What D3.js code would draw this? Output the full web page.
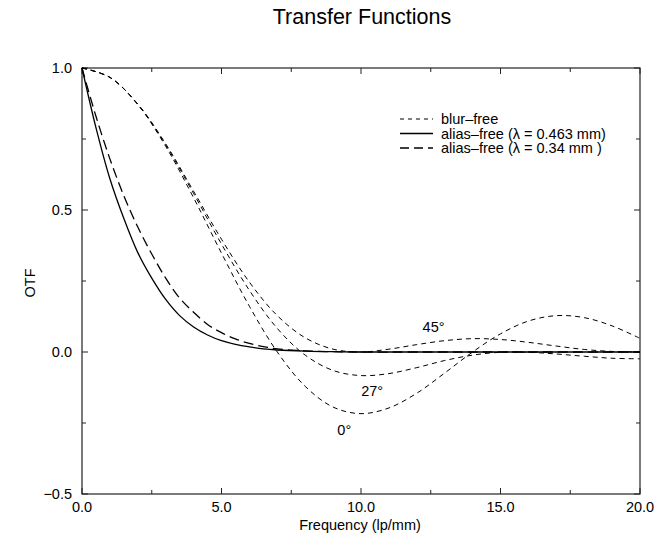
<!DOCTYPE html>
<meta charset="utf-8">
<style>
  body { margin: 0; background: #fff; }
  text { font-family: "Liberation Sans", Arial, sans-serif; fill: #000; }
</style>
<svg width="654" height="538"></svg>
<script src="https://cdn.jsdelivr.net/npm/d3@7"></script>
<script>

// frequencies (lp/mm) where the curves were read
var freq = [0, 1, 2, 3, 4, 5, 6, 7, 8, 9, 10, 11, 12, 13, 14, 15, 16, 17, 18, 19, 20];
var blur0  = [1, 0.967, 0.871, 0.724, 0.543, 0.348, 0.161, 0, -0.121, -0.194, -0.217, -0.197, -0.145, -0.074, 0, 0.064, 0.109, 0.128, 0.121, 0.092, 0.048];
var blur27 = [1, 0.967, 0.872, 0.729, 0.558, 0.380, 0.217, 0.083, -0.011, -0.065, -0.083, -0.076, -0.055, -0.030, -0.011, -0.001, -0.001, -0.007, -0.015, -0.022, -0.024];
var blur45 = [1, 0.967, 0.873, 0.733, 0.566, 0.397, 0.246, 0.128, 0.050, 0.010, 0, 0.010, 0.026, 0.040, 0.047, 0.044, 0.034, 0.021, 0.009, 0.002, 0];

var freqFine = [0, 0.5, 1, 1.5, 2, 2.5, 3, 3.5, 4, 4.5, 5, 5.5, 6, 6.5, 7, 8, 9, 10, 12, 15, 20];
var alias463 = [1, 0.79, 0.61, 0.47, 0.35, 0.26, 0.185, 0.128, 0.088, 0.06, 0.04, 0.027, 0.018, 0.011, 0.007, 0.003, 0.001, 0, 0, 0, 0];
var alias34  = [1, 0.83, 0.68, 0.55, 0.44, 0.345, 0.26, 0.19, 0.14, 0.097, 0.068, 0.046, 0.03, 0.019, 0.011, 0.004, 0.001, 0, 0, 0, 0];

var xTicks = [0, 5, 10, 15, 20];
var yTicks = [-0.5, 0, 0.5, 1];

var svg = d3.select("svg");
var pl = 82, pr = 640, pt = 68, pb = 494;

var x = d3.scaleLinear().domain([0, 20]).range([pl, pr]);
var y = d3.scaleLinear().domain([-0.5, 1]).range([pb, pt]);

// frame
svg.append("rect")
    .attr("x", pl).attr("y", pt)
    .attr("width", pr - pl).attr("height", pb - pt)
    .attr("fill", "none").attr("stroke", "#222").attr("stroke-width", 1.2);

// ticks on all four sides, pointing inward
var xMinor = d3.range(0, 20.01, 2.5);
var yMinor = d3.range(-0.5, 1.01, 0.25);
var tickG = svg.append("g").attr("stroke", "#222").attr("stroke-width", 1);
xMinor.forEach(function(v) {
  var len = v % 5 === 0 ? 6 : 4;
  tickG.append("line").attr("x1", x(v)).attr("x2", x(v)).attr("y1", pb).attr("y2", pb - len);
  tickG.append("line").attr("x1", x(v)).attr("x2", x(v)).attr("y1", pt).attr("y2", pt + len);
});
yMinor.forEach(function(v) {
  var len = Math.abs(v * 2 - Math.round(v * 2)) < 1e-6 ? 6 : 4;
  tickG.append("line").attr("y1", y(v)).attr("y2", y(v)).attr("x1", pl).attr("x2", pl + len);
  tickG.append("line").attr("y1", y(v)).attr("y2", y(v)).attr("x1", pr).attr("x2", pr - len);
});

svg.selectAll(".xt").data(xTicks).enter().append("text")
    .attr("x", function(d) { return x(d); })
    .attr("y", 512)
    .attr("text-anchor", "middle")
    .style("font-size", "14.5px")
    .text(function(d) { return d.toFixed(1); });

svg.selectAll(".yt").data(yTicks).enter().append("text")
    .attr("x", 72)
    .attr("y", function(d) { return y(d) + 5; })
    .attr("text-anchor", "end")
    .style("font-size", "14.5px")
    .text(function(d) { return (d < 0 ? "\u2212" : "") + Math.abs(d).toFixed(1); });

svg.append("text").attr("x", 362).attr("y", 24).attr("text-anchor", "middle")
    .style("font-size", "21.5px").text("Transfer Functions");
svg.append("text").attr("x", 360).attr("y", 530).attr("text-anchor", "middle")
    .style("font-size", "14.5px").text("Frequency (lp/mm)");
svg.append("text").attr("transform", "translate(35,283) rotate(-90)").attr("text-anchor", "middle")
    .style("font-size", "14.5px").text("OTF");

// curves
function line(xs) {
  return d3.line()
      .x(function(d, i) { return x(xs[i]); })
      .y(function(d) { return y(d); })
      .curve(d3.curveCatmullRom);
}

var curves = [
  { xs: freq, ys: blur0, dash: "5,4", width: 1 },
  { xs: freq, ys: blur27, dash: "5,4", width: 1 },
  { xs: freq, ys: blur45, dash: "5,4", width: 1 },
  { xs: freqFine, ys: alias463, dash: null, width: 1.3 },
  { xs: freqFine, ys: alias34, dash: "10,5", width: 1.3 }
];

curves.forEach(function(c) {
  svg.append("path")
      .attr("d", line(c.xs)(c.ys))
      .attr("fill", "none")
      .attr("stroke", "#000")
      .attr("stroke-width", c.width)
      .attr("stroke-dasharray", c.dash);
});

// angle labels
var angleLabels = [
  { t: "45\u00b0", f: 12.6, v: 0.072 },
  { t: "27\u00b0", f: 10.4, v: -0.155 },
  { t: "0\u00b0", f: 9.4, v: -0.292 }
];
svg.selectAll(".ang").data(angleLabels).enter().append("text")
    .attr("x", function(d) { return x(d.f); })
    .attr("y", function(d) { return y(d.v); })
    .attr("text-anchor", "middle")
    .style("font-size", "14.5px")
    .text(function(d) { return d.t; });

// legend
var legend = [
  { t: "blur\u2013free", dash: "4,4", width: 1 },
  { t: "alias\u2013free (\u03bb = 0.463 mm)", dash: null, width: 1.3 },
  { t: "alias\u2013free (\u03bb = 0.34 mm )", dash: "9,5", width: 1.3 }
];
var lg = svg.append("g");
legend.forEach(function(d, i) {
  var ly = 119 + i * 14.5;
  lg.append("line").attr("x1", 400).attr("x2", 433).attr("y1", ly).attr("y2", ly)
      .attr("stroke", "#000").attr("stroke-width", d.width).attr("stroke-dasharray", d.dash);
  lg.append("text").attr("x", 441).attr("y", ly + 5).style("font-size", "14.5px").text(d.t);
});

</script>
